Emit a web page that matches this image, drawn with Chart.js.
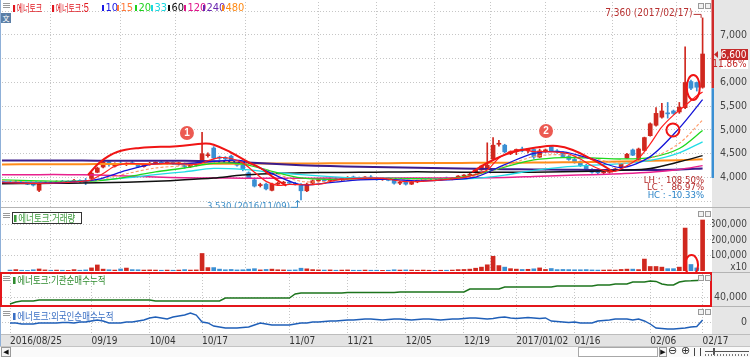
<!DOCTYPE html>
<html lang="ko"><head><meta charset="utf-8"><title>에너토크</title>
<script src="https://cdn.jsdelivr.net/npm/chart.js@4.4.1/dist/chart.umd.min.js"></script>
<style>
*{box-sizing:border-box}
html,body{margin:0;padding:0;background:#fff;overflow:hidden}
#wrap{position:relative;width:750px;height:357px;overflow:hidden;background:#fff}
.abs{position:absolute}
canvas{position:absolute;left:0}
.lg{position:absolute;white-space:nowrap;font-family:"Noto Sans CJK KR",sans-serif;font-size:10px;line-height:10px;transform:scale(0.85,1);transform-origin:0 0}
.lg.top{transform:scale(0.7,1)}
.lg i{display:inline-block;width:3px;height:7px;margin-right:2px;vertical-align:0px}
.num{position:absolute;white-space:nowrap;font-family:"Liberation Sans Narrow","DejaVu Sans Condensed","Liberation Sans",sans-serif;font-size:11px;line-height:10px}
.num i{display:inline-block;width:2px;height:6px;margin-right:1.5px;vertical-align:0px}
.ham{position:absolute;width:7px;height:5px;border-top:1px solid #999;border-bottom:1px solid #999}
.ham:after{content:"";position:absolute;left:0;right:0;top:1px;height:1px;background:#999}
.ico{position:absolute;width:6px;height:6px;border:1px solid #9a9a9a;background:#f2f2f2}
.btn{position:absolute;border:1px solid #9a9a9a;background:#f4f4f4;font:7px "DejaVu Sans",sans-serif;color:#111;text-align:center;line-height:8px}
</style></head>
<body>
<div id="wrap">
  <div class="abs" style="left:712px;top:0;width:38px;height:334px;background:#e6e6e6"></div>
  <div class="abs" style="left:0;top:334px;width:750px;height:12px;background:#e3e3e3;border-top:1px solid #bdbdbd"></div>
  <div class="abs" style="left:0;top:207px;width:750px;height:1px;background:#b4b4b4"></div>
  <div class="abs" style="left:712px;top:272px;width:38px;height:1px;background:#b4b4b4"></div>
  <div class="abs" style="left:0;top:306px;width:750px;height:1px;background:#b4b4b4"></div>
  <canvas id="cMain" width="750" height="208" style="top:0"></canvas>
  <canvas id="cVol" width="750" height="64" style="top:208px"></canvas>
  <canvas id="cInst" width="750" height="35" style="top:272px"></canvas>
  <canvas id="cFor" width="750" height="39" style="top:307px"></canvas>
  <div class="abs" style="left:0;top:0;width:1px;height:346px;background:#8fb0d8"></div>
  <div class="abs" style="left:0;top:272px;width:712px;height:35px;border:2px solid #e4161b"></div>

  <!-- top legend -->
  <div class="ham" style="left:3px;top:3px"></div>
  <div class="abs" style="left:1px;top:13px;width:10px;height:10px;background:#5a7ea6;color:#fff;font:7px 'Noto Sans CJK KR';text-align:center;line-height:10px">文</div>
  <div class="lg top" style="left:13px;top:3px;color:#e0161e"><i style="background:#e0161e"></i>에너토크</div>
  <div class="lg top" style="left:52px;top:3px;color:#e0161e"><i style="background:#e0161e"></i>에너토크<span style="font-family:'Liberation Sans Narrow','Liberation Sans';font-size:13px">:5</span></div>
  <div class="num" style="left:102px;top:3px;color:#1a1ae6"><i style="background:#1a1ae6"></i>10</div>
  <div class="num" style="left:117px;top:3px;color:#ff7a3a"><i style="background:#ff7a3a"></i>15</div>
  <div class="num" style="left:135px;top:3px;color:#1ed21e"><i style="background:#1ed21e"></i>20</div>
  <div class="num" style="left:151px;top:3px;color:#1ad8e0"><i style="background:#1ad8e0"></i>33</div>
  <div class="num" style="left:168px;top:3px;color:#111"><i style="background:#111"></i>60</div>
  <div class="num" style="left:184px;top:3px;color:#e0168c"><i style="background:#e0168c"></i>120</div>
  <div class="num" style="left:203px;top:3px;color:#6a28b0"><i style="background:#6a28b0"></i>240</div>
  <div class="num" style="left:222px;top:3px;color:#ff8a14"><i style="background:#ff8a14"></i>480</div>

  <!-- panel legends -->
  <div class="ham" style="left:3px;top:213px"></div>
  <div class="abs" style="left:12px;top:212px;width:70px;height:12px;border:1px solid #333;background:#fff"></div>
  <div class="lg" style="left:14px;top:213px;color:#3c9a3c"><i style="background:#3c9a3c"></i>에너토크:거래량</div>
  <div class="ham" style="left:3px;top:276px"></div>
  <div class="lg" style="left:13px;top:275px;color:#2e8b2e"><i style="background:#2e8b2e"></i>에너토크:기관순매수누적</div>
  <div class="ham" style="left:3px;top:311px"></div>
  <div class="lg" style="left:13px;top:311px;color:#3a6fc4"><i style="background:#3a6fc4"></i>에너토크:외국인순매수누적</div>

  <!-- panel corner icons -->
  <div class="ico" style="left:698px;top:3px"></div><div class="ico" style="left:705px;top:3px"></div>
  <div class="ico" style="left:698px;top:211px"></div><div class="ico" style="left:705px;top:211px"></div>
  <div class="ico" style="left:698px;top:275px"></div><div class="ico" style="left:705px;top:275px"></div>
  <div class="ico" style="left:698px;top:309px"></div><div class="ico" style="left:705px;top:309px"></div>

  <!-- bottom bar -->
  <div class="abs" style="left:0;top:346px;width:750px;height:11px;background:#fafafa;border-top:1px solid #c4c4c4"></div>
  <div class="btn" style="left:1px;top:347px;width:10px;height:10px">◀</div>
  <div class="abs" style="left:578px;top:347px;width:80px;height:10px;border:1px solid #a8a8a8;background:#fff"></div>
  <div class="btn" style="left:659px;top:347px;width:8px;height:10px">▶</div>
  <div class="abs" style="left:668px;top:345px;font:11px 'DejaVu Sans';color:#333;line-height:12px">⊖</div>
  <div class="abs" style="left:681px;top:345px;font:11px 'DejaVu Sans';color:#333;line-height:12px">⊕</div>
  <div class="abs" style="left:694px;top:348px;width:7px;height:8px;border-left:1px solid #444;border-right:1px solid #444"></div>
  <div class="abs" style="left:705px;top:351px;width:44px;height:1px;background:#555"></div>
  <div class="abs" style="left:713px;top:348px;width:2px;height:7px;background:#555"></div>
  <div class="abs" style="left:705px;top:354px;width:44px;height:2px;background:repeating-linear-gradient(to right,#777 0,#777 1px,transparent 1px,transparent 3px)"></div>
</div>
<script>
// ---------- data ----------
const tickIndex  = [0,14,24,33,48,58,68,78,87,97,110,119];
const tickLabels = ['2016/08/25','09/19','10/04','10/17','11/07','11/21','12/05','12/19','2017/01/02','01/16','02/06','02/17'];

const opens  = [3900,3880,3920,3890,3860,3730,3880,3900,3890,3910,3900,3920,3940,3930,3980,4110,4220,4330,4240,4300,
                4280,4300,4290,4230,4270,4300,4310,4300,4320,4290,4300,4230,4260,4300,4460,4620,4420,4410,4450,4310,
                4260,4100,3950,3830,3860,3730,3860,3880,3900,3880,3850,3720,3880,3930,3950,3930,3970,3950,3980,4000,
                3990,3970,4010,3990,3960,3980,3940,3880,3900,3860,3910,3940,3960,3970,3950,3980,3970,3990,4030,4050,
                4100,4160,4190,4390,4700,4680,4500,4550,4600,4560,4590,4430,4560,4650,4560,4520,4440,4380,4330,4250,
                4170,4110,4100,4110,4160,4200,4410,4580,4380,4570,4880,5100,5270,5360,5400,5380,5470,6020,6000,5900];
const highs  = [3920,3930,3930,3900,3880,3900,3920,3920,3930,3940,3930,3960,3950,3980,4110,4220,4360,4350,4310,4330,
                4310,4340,4300,4280,4320,4330,4340,4330,4330,4320,4310,4270,4310,4950,4520,4650,4450,4440,4470,4330,
                4280,4120,3970,3880,3880,3880,3900,3920,3930,3900,3870,3880,3950,3970,3980,3990,4000,3990,4020,4030,
                4010,4020,4040,4000,3990,4000,3950,3920,3910,3920,3950,3980,3990,3990,3990,4010,4000,4040,4060,4090,
                4180,4260,4730,4840,4780,4700,4560,4600,4640,4610,4600,4600,4600,4670,4590,4540,4470,4400,4350,4280,
                4190,4140,4130,4170,4200,4300,4510,4600,4620,4850,5150,5470,5560,5580,5420,5580,6750,6050,6010,7360];
const lows   = [3870,3870,3880,3850,3820,3700,3870,3880,3880,3890,3880,3900,3890,3850,3970,4100,4200,4240,4220,4260,
                4250,4270,4210,4220,4260,4270,4280,4280,4270,4260,4200,4210,4240,4290,4430,4380,4380,4360,4290,4240,
                4140,3980,3800,3800,3740,3720,3830,3850,3860,3840,3530,3700,3870,3910,3910,3920,3940,3930,3960,3970,
                3950,3960,3980,3940,3940,3930,3860,3850,3840,3850,3890,3920,3940,3930,3940,3950,3950,3980,4000,4030,
                4090,4150,4180,4380,4660,4520,4480,4480,4540,4520,4400,4420,4530,4540,4510,4420,4360,4300,4230,4150,
                4090,4080,4070,4090,4130,4180,4400,4460,4360,4560,4870,5080,5250,5250,5330,5350,5450,5850,5820,5880];
const closes = [3880,3920,3890,3860,3840,3880,3900,3890,3910,3900,3920,3940,3910,3900,4090,4200,4330,4270,4290,4280,
                4300,4290,4230,4270,4300,4310,4300,4320,4290,4310,4230,4260,4290,4500,4480,4410,4410,4390,4310,4260,
                4170,3990,3820,3850,3760,3860,3880,3900,3880,3860,3720,3860,3930,3950,3930,3970,3950,3980,4000,3990,
                3970,4010,3990,3960,3980,3940,3880,3900,3860,3910,3940,3960,3970,3950,3980,3970,3990,4030,4050,4070,
                4160,4240,4260,4680,4710,4540,4540,4590,4560,4600,4430,4560,4580,4560,4540,4440,4380,4330,4250,4170,
                4110,4100,4120,4160,4180,4290,4490,4470,4600,4840,5130,5350,5400,5340,5350,5480,6000,5880,5900,6600];

const volumes = [6000,9000,5000,4000,8000,13000,7000,5000,6000,5000,
                 4000,9000,5000,7000,20000,39000,12000,8000,6000,13000,
                 19000,9000,8000,6000,7000,6000,5000,6000,5000,6000,
                 9000,6000,7000,113000,22000,22000,12000,8000,10000,7000,
                 8000,12000,15000,7000,10000,12000,8000,7000,6000,7000,
                 18000,14000,9000,7000,6000,7000,5000,6000,7000,5000,
                 5000,6000,5000,5000,4000,5000,8000,6000,7000,6000,
                 5000,6000,5000,4000,5000,5000,6000,9000,10000,12000,
                 18000,25000,40000,95000,35000,25000,15000,12000,10000,11000,
                 14000,20000,10000,16000,9000,10000,9000,8000,8000,9000,
                 7000,6000,6000,7000,6000,10000,12000,12000,9000,77000,
                 29000,29000,25000,15000,15000,25000,277000,42000,20000,329000];

const instCum = [22500,27500,30000,30000,30000,32500,32500,32500,32500,32500,
                 32500,32500,32500,32500,32500,32500,32500,32500,32500,32500,
                 32500,32500,32500,32500,32500,30000,30000,30000,30000,30000,
                 30000,30000,30000,30000,30000,30000,30000,37500,37500,37500,
                 37500,37500,37500,37500,37500,37500,37500,37500,37500,47500,
                 50000,50000,50000,50000,50000,50000,50000,50000,51000,51000,
                 51000,51000,51000,51000,51000,51000,51000,52500,52500,52500,
                 52500,52500,52500,52500,52500,52500,52500,52500,52500,60000,
                 60000,60000,60000,60000,60000,65000,65000,65000,65000,65000,
                 65000,65000,65000,65000,67500,67500,67500,67500,67500,67500,
                 67500,70000,70000,70000,72500,72500,72500,77500,77500,77500,
                 80000,79000,72500,70000,70000,77500,80000,80500,81500,82500];

const foreignCum = [-2000,-2000,-4000,-4000,-4000,-2000,-2000,-2000,-2000,-1000,
                    -1000,-2000,0,0,2000,4000,2000,-2000,-2000,-2000,
                    0,0,2000,4000,8000,10000,8000,6000,10000,12000,
                    14000,18000,14000,0,-2000,-8000,-10000,-12000,-12000,-12000,
                    -11000,-10000,-6000,-2000,-4000,-6000,-6000,-6000,-6000,-4000,
                    -2000,-2000,0,0,1000,2000,2000,3000,4000,4000,
                    5000,6000,6000,5000,4000,5000,6000,6000,5000,4000,
                    5000,6000,6000,5000,4000,5000,6000,6000,7000,8000,
                    8000,7000,6000,7000,9000,10000,8000,7000,8000,9000,
                    8000,7000,8000,2000,1000,0,-1000,0,-2000,-2000,
                    -2000,2000,3000,4000,6000,6000,6000,4000,6000,2000,
                    -4000,-12000,-13000,-14000,-14000,-13000,-12000,-10000,-9000,4000];

// moving averages (sample day index -> value)
const maIdx  = [-1.4,5,10,15,20,25,30,35,40,45,50,55,60,65,70,75,80,85,90,95,100,105,110,115,119];
const ma10   = [3900,3880,3900,3960,4150,4290,4290,4340,4350,4080,3850,3890,3950,3960,3930,3950,4010,4270,4510,4540,4390,4210,4440,5040,5640];
const ma15   = [3930,3905,3905,3945,4080,4200,4250,4320,4320,4110,3920,3920,3960,3970,3950,3960,4030,4240,4440,4480,4400,4300,4400,4720,5210];
const ma20   = [3950,3930,3920,3930,4010,4120,4200,4300,4280,4130,3990,3960,3970,3980,3975,3970,4060,4220,4370,4420,4410,4390,4420,4610,4990];
const ma33   = [3900,3910,3920,3940,3990,4060,4120,4190,4170,4110,4060,4020,3990,3980,3970,3960,3980,4050,4150,4220,4260,4290,4360,4520,4750];
const ma60   = [3870,3875,3880,3890,3900,3920,3950,3990,4050,4080,4100,4105,4110,4115,4120,4115,4110,4110,4110,4120,4130,4150,4190,4330,4460];
const ma120  = [4060,4060,4060,4050,4030,4010,3995,3990,3985,3985,3985,3988,3990,3990,3990,3992,3995,4000,4020,4040,4060,4080,4110,4170,4250];
const ma240  = [4360,4360,4358,4355,4352,4350,4350,4340,4320,4290,4260,4240,4225,4215,4205,4195,4185,4175,4170,4165,4160,4158,4160,4170,4190];
const ma480  = [4275,4278,4280,4282,4284,4286,4288,4290,4292,4294,4296,4298,4300,4302,4304,4306,4308,4310,4315,4320,4325,4335,4350,4365,4385];
const ma5Idx = [-1.4,4,8,12,14,16,18,20,24,28,32,34,36,38,40,42,44,46,48,50,52,54,56,60,64,68,72,76,78,80,82,83,84,85,86,88,90,92,94,96,98,100,102,104,106,108,110,112,114,116,118,119];
const ma5    = [3890,3878,3884,3916,3952,4086,4236,4294,4278,4304,4276,4352,4418,4400,4308,4110,3918,3834,3856,3848,3850,3878,3946,3980,3980,3912,3928,3972,4004,4060,4156,4282,4410,4486,4546,4588,4544,4546,4534,4500,4388,4248,4150,4134,4248,4406,4706,5064,5314,5514,5722,5800];

// hand-drawn arcs (day index, price)
const arc1 = [[13.4,4053],[15.5,4327],[18.4,4537],[22.3,4621],[28.7,4660],[33.5,4715],[35,4690],[37.8,4537],[41.2,4306],[43,4200],[44.7,4053],[46.4,3905],[47.5,3830]];
const arc2 = [[79.4,4116],[82,4305],[85.9,4516],[91,4642],[94,4663],[96.7,4579],[100.2,4369],[102.6,4200],[103.6,4116]];

const priceGrid  = [3500,4000,4500,5000,5500,6000,6500,7000,7500];
const priceShown = [4000,4500,5000,5500,6000,7000];
const volTicks   = [100000,200000,300000];
const instTicks  = [40000];
const forTicks   = [0];
const rangeBand  = [5880,3990];
const notes = { high:'7,360 (2017/02/17)', low:'3,530 (2016/11/09)' };

// ---------- styling ----------
const RED='#d0281f', BLUE='#3a8fd3', ARC='#f01414';
const NARROW = '"Liberation Sans Narrow","DejaVu Sans Condensed","Liberation Sans",sans-serif';
const X_MIN=-1.375, X_MAX=120.615;
const candleColors = closes.map((c,k)=> c>=opens[k] ? RED : BLUE);
const GRID='#c6c6c6';

function xAxis(show){
  return {
    type:'linear', min:X_MIN, max:X_MAX, offset:false,
    afterBuildTicks(s){ s.ticks = tickIndex.map(v=>({value:v})); },
    afterFit(s){ s.height = show ? 13 : 0; s.paddingLeft=0; s.paddingRight=0; },
    grid:{ color:GRID, drawTicks:false, lineWidth:1 },
    border:{ display:false, dash:[1,2] },
    ticks:{ display:show, autoSkip:false, maxRotation:0, minRotation:0, align:'start', padding:2,
            color:'#333', font:{family:NARROW, size:10},
            callback:(v)=>{ const k=tickIndex.indexOf(v); return k>=0?tickLabels[k]:''; } }
  };
}
function yAxis(min,max,ticks,labelFn,pad,gridFn,fsize){
  return {
    position:'right', min, max,
    afterBuildTicks(s){ s.ticks = ticks.map(v=>({value:v})); },
    afterFit(s){ s.width = 35; s.paddingTop=0; s.paddingBottom=0; },
    grid:{ color: gridFn || GRID, drawTicks:false },
    border:{ display:false, dash:[1,2] },
    ticks:{ crossAlign:'far', padding:pad, color:'#444', font:{family:NARROW, size:fsize||10.5}, callback:labelFn }
  };
}
const fmt = v => Number(v).toLocaleString('en-US');
const base = (pad) => ({
  responsive:false, animation:false, devicePixelRatio:1, events:[],
  layout:{ padding:pad, autoPadding:false },
  plugins:{ legend:{display:false}, tooltip:{enabled:false} }
});
function lineDS(idx, vals, color, width, order, dash){
  return { type:'line', data: idx.map((x,k)=>({x, y:vals[k]})), borderColor:color, borderWidth:width,
           borderDash: dash||[], pointRadius:0, tension:0.3, order, fill:false };
}

// ---------- main price chart ----------
const mainPlugin = {
  id:'mainNotes',
  afterDatasetsDraw(chart){
    const {ctx, chartArea:a, scales:{x,y}} = chart;
    ctx.save();
    ctx.strokeStyle=ARC; ctx.lineWidth=2;
    [[117.4,5895,6.5,12.5],[113.9,5000,6.5,6.5]].forEach(r=>{
      ctx.beginPath(); ctx.ellipse(x.getPixelForValue(r[0]), y.getPixelForValue(r[1]), r[2], r[3], 0, 0, Math.PI*2); ctx.stroke();
    });
    [[30.4,4937,'1'],[92.1,4979,'2']].forEach(b=>{
      const px=x.getPixelForValue(b[0]), py=y.getPixelForValue(b[1]);
      ctx.fillStyle='#ec5a52'; ctx.beginPath(); ctx.arc(px,py,7,0,Math.PI*2); ctx.fill();
      ctx.fillStyle='#fff'; ctx.font='bold 10px "Liberation Sans"'; ctx.textAlign='center'; ctx.textBaseline='middle';
      ctx.fillText(b[2], px, py+0.5);
    });
    const hi = highs.indexOf(Math.max(...highs));
    const hx = x.getPixelForValue(hi), hy = y.getPixelForValue(highs[hi]);
    ctx.font = '10px '+NARROW; ctx.textBaseline='middle'; ctx.textAlign='right';
    ctx.fillStyle='#b83232'; ctx.fillText(notes.high, hx-10, hy-4);
    ctx.strokeStyle='#b83232'; ctx.lineWidth=1;
    ctx.beginPath(); ctx.moveTo(hx-9, hy-3.5); ctx.lineTo(hx-1.5, hy-3.5); ctx.lineTo(hx-1.5, hy); ctx.stroke();
    const lo = lows.indexOf(Math.min(...lows));
    const lx = x.getPixelForValue(lo)-2, ly = y.getPixelForValue(lows[lo]);
    ctx.font = '9.5px '+NARROW;
    ctx.fillStyle='#3d8fc8'; ctx.textAlign='right'; ctx.fillText(notes.low, lx-9, ly+7);
    ctx.strokeStyle='#3d8fc8';
    ctx.beginPath(); ctx.moveTo(lx-8, ly+7.5); ctx.lineTo(lx-1.5, ly+7.5); ctx.lineTo(lx-1.5, ly+1); ctx.stroke();
    ctx.beginPath(); ctx.moveTo(lx-3.5, ly+3); ctx.lineTo(lx-1.5, ly+0.5); ctx.lineTo(lx+0.5, ly+3); ctx.stroke();
    const H=highs[hi], L=lows[lo], C=closes[closes.length-1];
    const pct = v => (v<0?'-':' ')+Math.abs(v).toFixed(2)+'%';
    const rows=[['LH : '+pct((H/L-1)*100),'#b42828'],['LC :  '+pct((C/L-1)*100),'#b42828'],['HC : '+pct((C/H-1)*100),'#2a84c8']];
    ctx.font='9.5px '+NARROW; ctx.textAlign='right';
    rows.forEach((r,k)=>{
      ctx.fillStyle=r[1]; ctx.fillText(r[0], a.right-8, 180.5+k*7.5);
    });
    ctx.restore();
  },
  afterDraw(chart){
    const {ctx, chartArea:a, scales:{y}} = chart;
    ctx.save();
    const yb = y.getPixelForValue(rangeBand[0]), ye = y.getPixelForValue(rangeBand[1]);
    ctx.fillStyle='#cf2a2a'; ctx.fillRect(a.right-0.5, 0, 2.5, yb);
    ctx.fillStyle='#3a8fd3'; ctx.fillRect(a.right-0.5, yb, 2.5, ye-yb);
    const C = closes[closes.length-1], P = closes[closes.length-2];
    const py = Math.round(y.getPixelForValue(C))+0.5;
    ctx.fillStyle='#c42a2a';
    ctx.beginPath(); ctx.moveTo(a.right+2, py); ctx.lineTo(a.right+6, py-3.5); ctx.lineTo(a.right+6, py+3.5); ctx.closePath(); ctx.fill();
    ctx.fillRect(721, py-5.5, 27, 11);
    ctx.fillStyle='#fff'; ctx.fillRect(721, py+5.5, 27, 9);
    ctx.font='10px '+NARROW; ctx.textAlign='right'; ctx.textBaseline='middle';
    ctx.fillStyle='#fff'; ctx.fillText(fmt(C), 746.5, py+0.5);
    ctx.fillStyle='#c42a2a'; ctx.fillText(((C/P-1)*100).toFixed(2)+'%', 746.5, py+10);
    ctx.restore();
  }
};

new Chart(document.getElementById('cMain'), {
  type:'bar',
  data:{ datasets:[
    { type:'line', data:arc1.map(p=>({x:p[0],y:p[1]})), borderColor:ARC, borderWidth:2, pointRadius:0, tension:0.4, order:0 },
    { type:'line', data:arc2.map(p=>({x:p[0],y:p[1]})), borderColor:ARC, borderWidth:2, pointRadius:0, tension:0.4, order:0 },
    lineDS(ma5Idx, ma5, '#ff2020', 1.2, 1),
    lineDS(maIdx, ma10, '#1414d8', 1.3, 2),
    lineDS(maIdx, ma15, '#ff9966', 1.1, 3, [3,2]),
    lineDS(maIdx, ma20, '#1ed81e', 1.3, 4),
    lineDS(maIdx, ma33, '#20dce6', 1.3, 5),
    lineDS(maIdx, ma60, '#101010', 1.5, 6),
    lineDS(maIdx, ma120, '#e8208e', 1.5, 7),
    lineDS(maIdx, ma240, '#3c1c8c', 2, 8),
    lineDS(maIdx, ma480, '#ff8c1a', 2, 9),
    { type:'bar', data:opens.map((o,k)=>({x:k, y:[o, closes[k]]})), backgroundColor:candleColors, borderWidth:0,
      barThickness:4, minBarLength:1, grouped:false, order:10 },
    { type:'bar', data:lows.map((l,k)=>({x:k, y:[l, highs[k]]})), backgroundColor:candleColors, borderWidth:0,
      barThickness:1, grouped:false, order:11 }
  ]},
  options:Object.assign(base({left:2,right:3,top:2,bottom:1}), {
    scales:{
      x:xAxis(false),
      y:yAxis(3378.9, 7694.7, priceGrid, v=> priceShown.includes(v)? fmt(v):'', 12)
    }
  }),
  plugins:[mainPlugin]
});

// ---------- volume ----------
const X10 = 25800;
new Chart(document.getElementById('cVol'), {
  type:'bar',
  data:{ datasets:[{ data:volumes.map((v,k)=>({x:k,y:v})), backgroundColor:candleColors, borderWidth:0, barThickness:4, grouped:false }]},
  options:Object.assign(base({left:2,right:3,top:2,bottom:1}), {
    scales:{
      x:xAxis(false),
      y:yAxis(0, 393500, [X10].concat(volTicks), v=> v===X10?'x10':fmt(v), 1,
              c=> (c.tick && c.tick.value===X10)?'rgba(0,0,0,0)':GRID, 10)
    }
  }),
  plugins:[{ id:'volRing', afterDatasetsDraw(ch){
    const {ctx, scales:{x,y}} = ch; ctx.save(); ctx.strokeStyle=ARC; ctx.lineWidth=2;
    ctx.beginPath(); ctx.ellipse(x.getPixelForValue(117.1), y.getPixelForValue(38700), 6.5, 10, 0, 0, Math.PI*2); ctx.stroke(); ctx.restore();
  }}]
});

// ---------- institution cumulative ----------
new Chart(document.getElementById('cInst'), {
  type:'line',
  data:{ datasets:[{ data:instCum.map((v,k)=>({x:k,y:v})), borderColor:'#1d741d', borderWidth:1.5, pointRadius:0, tension:0 }]},
  options:Object.assign(base({left:2,right:3,top:2,bottom:2}), {
    scales:{ x:xAxis(false), y:yAxis(20000, 97500, instTicks, v=>fmt(v), 8) }
  })
});

// ---------- foreign cumulative ----------
new Chart(document.getElementById('cFor'), {
  type:'line',
  data:{ datasets:[{ data:foreignCum.map((v,k)=>({x:k,y:v})), borderColor:'#1f5fb8', borderWidth:1.4, pointRadius:0, tension:0 }]},
  options:Object.assign(base({left:2,right:3,top:1,bottom:0}), {
    scales:{ x:xAxis(true), y:yAxis(-22000, 28000, forTicks, v=>fmt(v), 28) }
  })
});
</script>
</body></html>
